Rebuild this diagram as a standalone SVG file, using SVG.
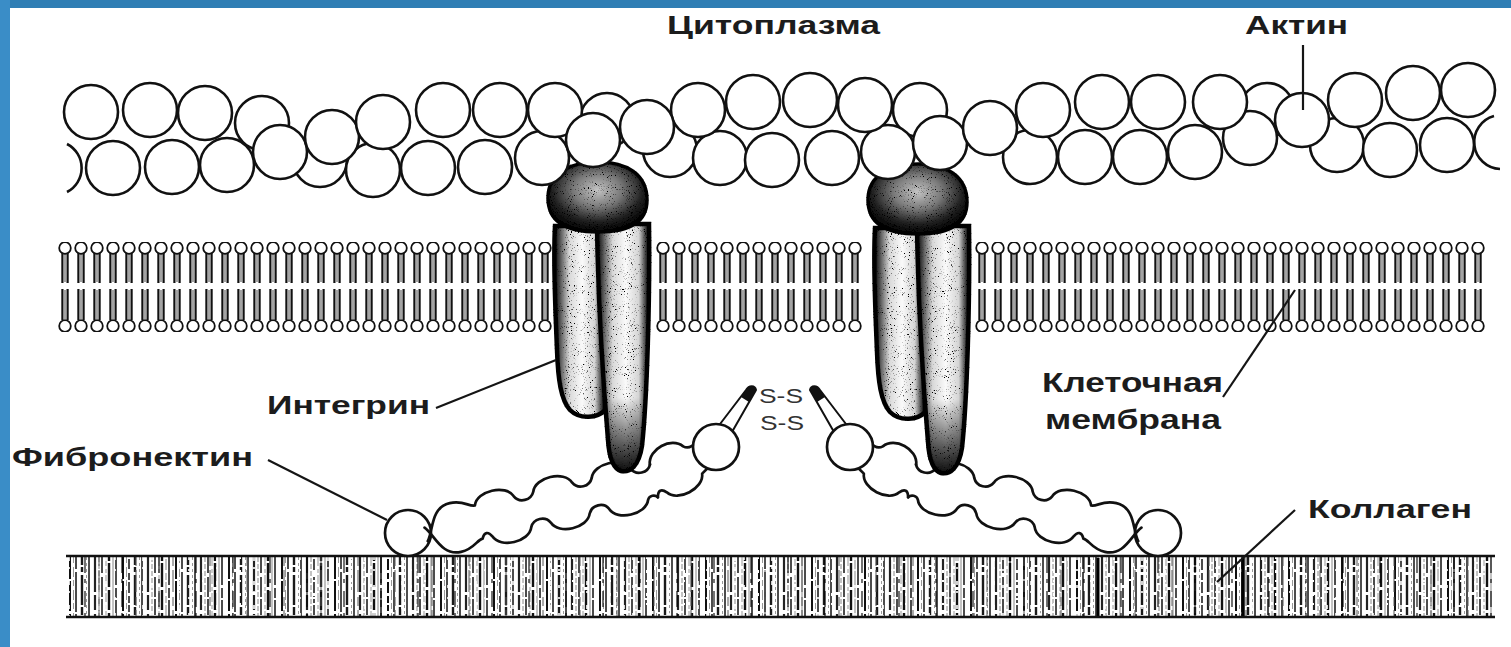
<svg xmlns="http://www.w3.org/2000/svg" width="1511" height="647" viewBox="0 0 1511 647">
  <defs>
    <style>
      .act { fill: #fff; stroke: #111; stroke-width: 2.6; }
      .arc { fill: none; stroke: #111; stroke-width: 2.6; }
      .leg { fill: url(#legShade); stroke: #050505; stroke-width: 4.5; }
      .tip { fill: url(#tipDark); stroke: none; }
      .ihead { fill: url(#headShade); stroke: #050505; stroke-width: 3.5; }
      .fn { fill: #fff; stroke: #111; stroke-width: 2.7; }
      .fnedge { fill: none; stroke: #111; stroke-width: 2.7; stroke-linecap: round; stroke-linejoin: round; }
      .hook { fill: #fff; stroke: #111; stroke-width: 2; stroke-linejoin: round; }
      .lead { stroke: #151515; stroke-width: 2.2; fill: none; }
      .lbl { font-family: "Liberation Sans", Arial, sans-serif; font-weight: bold; font-size: 25px; fill: #1c1c1c; }
      .ss { font-family: "Liberation Sans", Arial, sans-serif; font-size: 20px; fill: #333; }
    </style>

    <!-- shading of integrin legs and heads -->
    <linearGradient id="legShade" x1="0" y1="0" x2="1" y2="0">
      <stop offset="0" stop-color="#000"/>
      <stop offset="0.12" stop-color="#555"/>
      <stop offset="0.3" stop-color="#d8d8d8"/>
      <stop offset="0.55" stop-color="#fafafa"/>
      <stop offset="0.8" stop-color="#d4d4d4"/>
      <stop offset="0.92" stop-color="#4a4a4a"/>
      <stop offset="1" stop-color="#000"/>
    </linearGradient>
    <linearGradient id="tipDark" x1="0" y1="0" x2="0" y2="1">
      <stop offset="0.7" stop-color="#000" stop-opacity="0"/>
      <stop offset="0.93" stop-color="#000" stop-opacity="0.75"/>
      <stop offset="1" stop-color="#000" stop-opacity="0.95"/>
    </linearGradient>
    <radialGradient id="headShade" cx="0.5" cy="0.4" r="0.6">
      <stop offset="0" stop-color="#c4c4c4"/>
      <stop offset="0.4" stop-color="#7a7a7a"/>
      <stop offset="0.75" stop-color="#222"/>
      <stop offset="1" stop-color="#000"/>
    </radialGradient>

    <!-- stippled grain for protein bodies -->
    <filter id="grain" x="-5%" y="-5%" width="110%" height="110%">
      <feTurbulence type="fractalNoise" baseFrequency="0.95" numOctaves="2" seed="7" result="noise"/>
      <feColorMatrix in="noise" type="matrix" values="0 0 0 0 0  0 0 0 0 0  0 0 0 0 0  8 0 0 0 -5.0" result="specks"/>
      <feComposite in="specks" in2="SourceAlpha" operator="in" result="inside"/>
      <feMerge>
        <feMergeNode in="SourceGraphic"/>
        <feMergeNode in="inside"/>
      </feMerge>
    </filter>

    <!-- one phospholipid: two heads, paired tails -->
    <pattern id="lipid" patternUnits="userSpaceOnUse" width="16" height="90">
      <g stroke="#111" stroke-width="2.2">
        <line x1="5.4" y1="11" x2="5.4" y2="41"/>
        <line x1="10.6" y1="11" x2="10.6" y2="41"/>
        <line x1="5.4" y1="47" x2="5.4" y2="78"/>
        <line x1="10.6" y1="47" x2="10.6" y2="78"/>
      </g>
      <g stroke="#666" stroke-width="1.2">
        <line x1="8" y1="12" x2="8" y2="40"/>
        <line x1="8" y1="48" x2="8" y2="77"/>
      </g>
      <circle cx="8" cy="6" r="5.8" fill="#fff" stroke="#111" stroke-width="1.8"/>
      <circle cx="8" cy="84" r="5.8" fill="#fff" stroke="#111" stroke-width="1.8"/>
    </pattern>

    <!-- collagen fibre striations -->
    <pattern id="colA" patternUnits="userSpaceOnUse" x="68" y="557" width="53" height="60">
      <g fill="none">
        <line x1="2" y1="0" x2="2" y2="60" stroke="#111" stroke-width="2" stroke-dasharray="22 2 30 3"/>
        <line x1="5.5" y1="0" x2="5.5" y2="60" stroke="#999" stroke-width="1" stroke-dasharray="6 4 10 3"/>
        <line x1="8" y1="0" x2="8" y2="60" stroke="#111" stroke-width="1.5" stroke-dasharray="12 3 40 2"/>
        <line x1="14" y1="0" x2="14" y2="60" stroke="#1a1a1a" stroke-width="2.4" stroke-dasharray="8 2 5 3 30 2"/>
        <line x1="18.5" y1="0" x2="18.5" y2="60" stroke="#999" stroke-width="1" stroke-dasharray="3 3"/>
        <line x1="21" y1="0" x2="21" y2="60" stroke="#111" stroke-width="1.5"/>
        <line x1="27" y1="0" x2="27" y2="60" stroke="#222" stroke-width="2.2" stroke-dasharray="35 3 15 4"/>
        <line x1="31" y1="0" x2="31" y2="60" stroke="#888" stroke-width="1" stroke-dasharray="5 2"/>
        <line x1="34" y1="0" x2="34" y2="60" stroke="#111" stroke-width="1.5" stroke-dasharray="16 4 20 2"/>
        <line x1="38" y1="0" x2="38" y2="60" stroke="#aaa" stroke-width="1.2" stroke-dasharray="9 3 4 2"/>
        <line x1="41" y1="0" x2="41" y2="60" stroke="#111" stroke-width="2.4" stroke-dasharray="4 2 24 3 20 3"/>
        <line x1="45" y1="0" x2="45" y2="60" stroke="#888" stroke-width="1"/>
        <line x1="48" y1="0" x2="48" y2="60" stroke="#111" stroke-width="1.5" stroke-dasharray="28 3 10 2"/>
      </g>
    </pattern>
    <pattern id="colB" patternUnits="userSpaceOnUse" x="75" y="557" width="37" height="60">
      <g fill="none">
        <line x1="3" y1="0" x2="3" y2="60" stroke="#fff" stroke-width="1.6" stroke-dasharray="3 9 2 14"/>
        <line x1="10" y1="0" x2="10" y2="60" stroke="#000" stroke-width="1.1" stroke-dasharray="16 6 4 8"/>
        <line x1="17" y1="0" x2="17" y2="60" stroke="#fff" stroke-width="2" stroke-dasharray="2 11 3 7"/>
        <line x1="24" y1="0" x2="24" y2="60" stroke="#555" stroke-width="1" stroke-dasharray="9 4 22 5"/>
        <line x1="31" y1="0" x2="31" y2="60" stroke="#fff" stroke-width="1.6" stroke-dasharray="4 6 2 12"/>
      </g>
    </pattern>

    <!-- integrin: two transmembrane legs under a cytoplasmic head -->
    <g id="integrin-shape" filter="url(#grain)">
      <path class="leg" d="M555,226 L605,226 L605,410 C598,418 580,420 570,410 C561,400 558,380 557,350 C555,300 553,262 555,226 Z"/>
      <path class="leg" d="M597,224 L649,224 C650,300 647,400 642,446 C639,466 630,473 621,471 C612,468 609,456 608,440 C603,380 598,300 597,224 Z"/>
      <path class="tip" d="M597,224 L649,224 C650,300 647,400 642,446 C639,466 630,473 621,471 C612,468 609,456 608,440 C603,380 598,300 597,224 Z"/>
      <path class="ihead" d="M548,198 C548,172 572,162 598,162 C626,162 647,174 647,200 C647,222 630,232 598,232 C566,232 548,222 548,198 Z"/>
    </g>

    <!-- one fibronectin arm: end bead, looped and beaded chain, bead with S-S hook -->
    <g id="fn-arm">
      <circle class="fn" cx="408" cy="533" r="23"/>
      <!-- first stretch, from the crossing point up to the bend -->
      <g transform="translate(432,533) rotate(-13.2)">
        <path class="fnedge" d="M-6,7 C2,-2 4,-25 24,-25 C38,-25 42,-17 48,-17 c5,-14 35,-14 40,0 c4,8 16,8 20,0 c5,-14 35,-14 40,0 c4,8 16,8 20,0 c5,-14 35,-14 40,0 c4,8 16,8 20,0"/>
        <path class="fnedge" d="M-6,-7 C2,2 4,25 24,25 C38,25 42,17 48,17 c3,-6 7,-6 10,0 c5,14 35,14 40,0 c4,-8 16,-8 20,0 c5,14 35,14 40,0 c4,-8 16,-8 20,0 c5,14 35,14 40,0 c2,-4 8,-4 10,0"/>
      </g>
      <!-- second stretch, rising to the terminal bead -->
      <g transform="translate(650,482) rotate(-27.9)">
        <path class="fnedge" d="M8,-15.6 C14,-30 40,-30 46,-16 C50,-10 56,-12 64,-16"/>
        <path class="fnedge" d="M0,17 c3,-6 7,-6 10,0 c5,14 35,14 40,0 l10,-3"/>
      </g>
      <!-- narrow loop carrying the disulfide bridges -->
      <path class="hook" d="M717,428 L746,390 C749,385 755,385 756,390 L732,432 Z"/>
      <path d="M746,390 C749,385 755,385 756,390 L749,402 L741,397 Z" fill="#111"/>
      <circle class="fn" cx="716" cy="447" r="23"/>
    </g>
  </defs>

  <!-- page -->
  <rect x="0" y="0" width="1511" height="647" fill="#fff"/>
  <rect x="0" y="0" width="1511" height="8" fill="#2f7eb4"/>
  <rect x="0" y="0" width="10" height="647" fill="#3a8dc7"/>

  <!-- collagen fibre -->
  <g id="collagen">
    <rect x="68" y="557" width="1425" height="60" fill="url(#colA)"/>
    <rect x="68" y="557" width="1425" height="60" fill="url(#colB)"/>
    <line x1="1098" y1="558" x2="1098" y2="616" stroke="#000" stroke-width="3"/>
    <line x1="1243" y1="558" x2="1243" y2="616" stroke="#000" stroke-width="3.5"/>
    <line x1="66" y1="556" x2="1495" y2="556" stroke="#111" stroke-width="2.6"/>
    <line x1="66" y1="617" x2="1495" y2="617" stroke="#111" stroke-width="2.6"/>
  </g>

  <!-- lipid bilayer, three stretches between the integrins -->
  <g id="membrane">
    <rect x="0" y="0" width="496" height="90" fill="url(#lipid)" transform="translate(57,242)"/>
    <rect x="0" y="0" width="208" height="90" fill="url(#lipid)" transform="translate(655,242)"/>
    <rect x="0" y="0" width="512" height="90" fill="url(#lipid)" transform="translate(974,242)"/>
  </g>

  <!-- fibronectin dimer joined by disulfide bridges -->
  <g id="fibronectin">
    <use href="#fn-arm"/>
    <use href="#fn-arm" transform="translate(1566,0) scale(-1,1)"/>
    <text class="ss" x="759" y="403" textLength="44" lengthAdjust="spacingAndGlyphs">S-S</text>
    <text class="ss" x="760" y="430" textLength="44" lengthAdjust="spacingAndGlyphs">S-S</text>
  </g>

  <g id="integrin-left">
    <use href="#integrin-shape"/>
  </g>
  <g id="integrin-right">
    <use href="#integrin-shape" transform="translate(320,2)"/>
  </g>

  <!-- actin filament: two twisted strands of globular subunits -->
  <g id="actin">
    <path class="arc" d="M67,144 A27,27 0 0 1 67,192"/>
    <path class="arc" d="M1494,116 A27,27 0 0 0 1500,169"/>
    <!-- rear subunits -->
    <circle class="act" cx="262" cy="123" r="27"/>
    <circle class="act" cx="320" cy="160" r="27"/>
    <circle class="act" cx="373" cy="170" r="27"/>
    <circle class="act" cx="607" cy="120" r="27"/>
    <circle class="act" cx="670" cy="150" r="27"/>
    <circle class="act" cx="920" cy="110" r="27"/>
    <circle class="act" cx="1030" cy="157" r="27"/>
    <circle class="act" cx="1267" cy="110" r="27"/>
    <circle class="act" cx="1337" cy="145" r="27"/>
    <!-- lower strand -->
    <circle class="act" cx="113" cy="168" r="27"/>
    <circle class="act" cx="172" cy="167" r="27"/>
    <circle class="act" cx="227" cy="165" r="27"/>
    <circle class="act" cx="428" cy="168" r="27"/>
    <circle class="act" cx="485" cy="167" r="27"/>
    <circle class="act" cx="542" cy="158" r="27"/>
    <circle class="act" cx="720" cy="158" r="27"/>
    <circle class="act" cx="772" cy="160" r="27"/>
    <circle class="act" cx="832" cy="158" r="27"/>
    <circle class="act" cx="888" cy="152" r="27"/>
    <circle class="act" cx="1085" cy="157" r="27"/>
    <circle class="act" cx="1140" cy="157" r="27"/>
    <circle class="act" cx="1195" cy="152" r="27"/>
    <circle class="act" cx="1250" cy="138" r="27"/>
    <circle class="act" cx="1390" cy="150" r="27"/>
    <circle class="act" cx="1447" cy="145" r="27"/>
    <!-- upper strand -->
    <circle class="act" cx="91" cy="112" r="27"/>
    <circle class="act" cx="150" cy="110" r="27"/>
    <circle class="act" cx="205" cy="113" r="27"/>
    <circle class="act" cx="443" cy="110" r="27"/>
    <circle class="act" cx="500" cy="110" r="27"/>
    <circle class="act" cx="555" cy="110" r="27"/>
    <circle class="act" cx="698" cy="110" r="27"/>
    <circle class="act" cx="753" cy="102" r="27"/>
    <circle class="act" cx="810" cy="100" r="27"/>
    <circle class="act" cx="865" cy="105" r="27"/>
    <circle class="act" cx="1043" cy="110" r="27"/>
    <circle class="act" cx="1102" cy="102" r="27"/>
    <circle class="act" cx="1158" cy="102" r="27"/>
    <circle class="act" cx="1220" cy="102" r="27"/>
    <circle class="act" cx="1355" cy="100" r="27"/>
    <circle class="act" cx="1413" cy="93" r="27"/>
    <circle class="act" cx="1468" cy="90" r="27"/>
    <!-- subunits at the strand crossings -->
    <circle class="act" cx="280" cy="152" r="27"/>
    <circle class="act" cx="332" cy="137" r="27"/>
    <circle class="act" cx="383" cy="122" r="27"/>
    <circle class="act" cx="593" cy="140" r="27"/>
    <circle class="act" cx="647" cy="127" r="27"/>
    <circle class="act" cx="940" cy="143" r="27"/>
    <circle class="act" cx="990" cy="128" r="27"/>
    <circle class="act" cx="1302" cy="120" r="27"/>
  </g>

  <!-- leader lines -->
  <g id="connectors">
    <line class="lead" x1="1303" y1="45" x2="1303" y2="110"/>
    <line class="lead" x1="436" y1="408" x2="556" y2="360"/>
    <line class="lead" x1="268" y1="460" x2="387" y2="520"/>
    <line class="lead" x1="1223" y1="397" x2="1295" y2="290"/>
    <line class="lead" x1="1295" y1="510" x2="1217" y2="582"/>
  </g>

  <g id="labels">
    <text class="lbl" x="667" y="34" textLength="213" lengthAdjust="spacingAndGlyphs">Цитоплазма</text>
    <text class="lbl" x="1245" y="34" textLength="103" lengthAdjust="spacingAndGlyphs">Актин</text>
    <text class="lbl" x="267" y="414" textLength="163" lengthAdjust="spacingAndGlyphs">Интегрин</text>
    <text class="lbl" x="12" y="466" textLength="241" lengthAdjust="spacingAndGlyphs">Фибронектин</text>
    <text class="lbl" x="1042" y="392" textLength="181" lengthAdjust="spacingAndGlyphs" style="font-size:27px">Клеточная</text>
    <text class="lbl" x="1045" y="429" textLength="176" lengthAdjust="spacingAndGlyphs" style="font-size:27px">мембрана</text>
    <text class="lbl" x="1308" y="518" textLength="164" lengthAdjust="spacingAndGlyphs">Коллаген</text>
  </g>
</svg>
